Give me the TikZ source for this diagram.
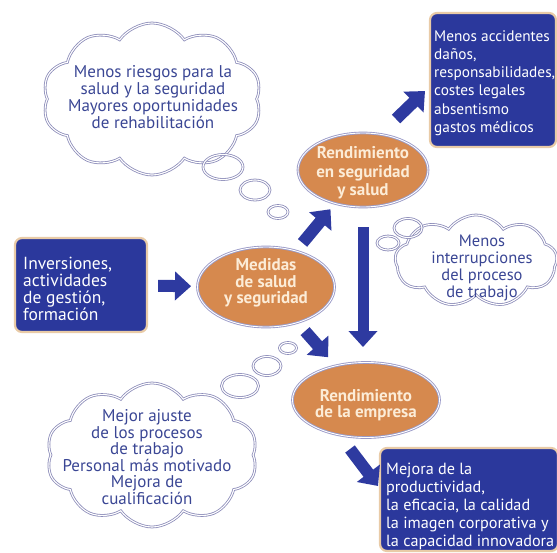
\documentclass[tikz,border=0pt]{standalone}
\usepackage{fontspec}
\setmainfont{PT Sans}
\usetikzlibrary{shapes.geometric,shapes.symbols,arrows.meta}
\definecolor{boxblue}{RGB}{43,56,156}
\definecolor{boxrim}{RGB}{233,203,167}
\definecolor{ovalfill}{RGB}{214,137,78}
\definecolor{ovalrim}{RGB}{155,155,200}
\definecolor{ovaltxt}{RGB}{252,236,215}
\definecolor{cloudrim}{RGB}{140,140,185}
\definecolor{cloudtxt}{RGB}{58,70,148}
\definecolor{arrowblue}{RGB}{46,58,160}
\begin{document}
\begin{tikzpicture}[x=1pt,y=-1pt,
  bluebox/.style={draw=boxrim, line width=2.2pt, fill=boxblue, rounded corners=7pt, inner sep=0pt},
  boxtext/.style={text=white, align=left, inner sep=0pt},
  oval/.style={ellipse, draw=ovalrim, line width=0.9pt, double=white, double distance=0.9pt, fill=ovalfill, inner sep=0pt},
  ovaltext/.style={text=ovaltxt, align=center, inner sep=0pt},
  thought/.style={cloud, cloud puffs=10, cloud puff arc=110, cloud ignores aspect, draw=cloudrim, line width=0.8pt, double=white, double distance=1.1pt, inner sep=0pt},
  bubble/.style={ellipse, draw=cloudrim, line width=0.8pt, double=white, double distance=1.1pt, inner sep=0pt},
  thoughttext/.style={text=cloudtxt, align=center, inner sep=0pt},
  bigarrow/.style={draw=arrowblue, line width=12pt, -{Triangle[width=28pt,length=16pt]}}
]
\useasboundingbox (0,0) rectangle (557,552);

% clouds
\node[thought, minimum width=219pt, minimum height=152pt] (c1) at (152,99) {};
\node[thoughttext, font=\fontsize{17}{17}\selectfont] (c1t) at (153,97) {Menos riesgos para la\\salud y la seguridad\\Mayores oportunidades\\de rehabilitación};
\node[thought, cloud puffs=9, minimum width=162pt, minimum height=92pt] (c2) at (476,261) {};
\node[thoughttext, font=\fontsize{16.5}{17}\selectfont] (c2t) at (482,268) {Menos\\interrupciones\\del proceso\\de trabajo};
\node[thought, minimum width=211pt, minimum height=144pt] (c3) at (152,455) {};
\node[thoughttext, font=\fontsize{17}{16.6}\selectfont] (c3t) at (147,457) {Mejor ajuste\\de los procesos\\de trabajo\\Personal más motivado\\Mejora de\\cualificación};

% bubbles
\node[bubble, minimum width=40pt, minimum height=25pt] (p1) at (223,167) {};
\node[bubble, minimum width=30pt, minimum height=20pt] (p2) at (255,190) {};
\node[bubble, minimum width=20pt, minimum height=13pt] (p3) at (278,212) {};
\node[bubble, minimum width=28pt, minimum height=19pt] (p4) at (408,228) {};
\node[bubble, minimum width=22pt, minimum height=14pt] (p5) at (388,243) {};
\node[bubble, minimum width=17pt, minimum height=11pt] (p6) at (288,348) {};
\node[bubble, minimum width=28pt, minimum height=19pt] (p7) at (267,366) {};
\node[bubble, minimum width=37pt, minimum height=23pt] (p8) at (240,386) {};

% boxes
\node[bluebox, minimum width=126pt, minimum height=134pt] (b1) at (493,80) {};
\node[boxtext, anchor=west, font=\fontsize{15.3}{18.3}\selectfont] (b1t) at (434,83) {Menos accidentes\\daños,\\responsabilidades,\\costes legales\\absentismo\\gastos médicos};
\node[bluebox, minimum width=132pt, minimum height=94pt] (inv) at (81,285) {};
\node[boxtext, anchor=west, font=\fontsize{17.5}{17}\selectfont] (invt) at (23,289) {Inversiones,\\actividades\\de gestión,\\formación};
\node[bluebox, minimum width=178pt, minimum height=103pt] (b2) at (469,499.5) {};
\node[boxtext, anchor=west, font=\fontsize{16.2}{18}\selectfont] (b2t) at (386,506) {Mejora de la\\productividad,\\la eficacia, la calidad\\la imagen corporativa y\\la capacidad innovadora};

% ovals
\node[oval, minimum width=130pt, minimum height=74pt] (rs) at (363,170) {};
\node[ovaltext, font=\fontsize{17}{18.5}\selectfont\bfseries] (rst) at (363,173) {Rendimiento\\en seguridad\\y salud};
\node[oval, minimum width=137pt, minimum height=80pt] (med) at (266,287) {};
\node[ovaltext, font=\fontsize{17}{16.5}\selectfont\bfseries] (medt) at (266,283) {Medidas\\de salud\\y seguridad};
\node[oval, minimum width=147pt, minimum height=75pt] (re) at (366,400) {};
\node[ovaltext, font=\fontsize{17}{16.5}\selectfont\bfseries] (ret) at (366,405) {Rendimiento\\de la empresa};

% arrows
\coordinate (a5s) at (396,119);
\coordinate (a5e) at (425,91);
\coordinate (a6s) at (350,449);
\coordinate (a6e) at (378,486);
\draw[bigarrow, shorten <=10pt, shorten >=6pt] (inv) -- (med);
\draw[bigarrow, shorten <=10pt, shorten >=7pt] (med) -- (rs);
\draw[bigarrow, shorten <=11pt, shorten >=11pt] (med) -- (re);
\draw[bigarrow, line width=11pt, shorten <=20pt, shorten >=15pt] (rs.south) -- (rs.south |- re.north);
\draw[bigarrow] (a5s) -- (a5e);
\draw[bigarrow] (a6s) -- (a6e);
\end{tikzpicture}
\end{document}
